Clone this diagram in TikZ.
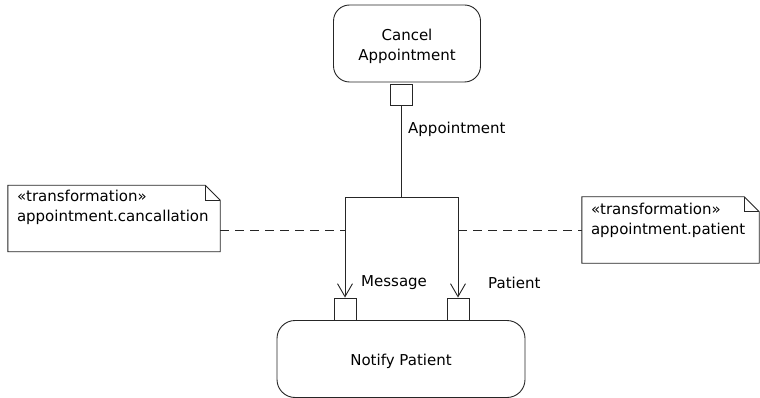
\documentclass[tikz,border=0pt]{standalone}
\usepackage{fontspec}
\setmainfont{DejaVu Sans}
\usetikzlibrary{arrows.meta,calc}
\begin{document}
\begin{tikzpicture}[x=1pt,y=-1pt,
  every node/.style={font=\fontsize{15}{20}\selectfont,text=black},
  ln/.style={line width=0.9pt,black!85},
  action/.style={ln,draw,rounded corners=16pt,inner sep=0pt,align=center,text=black},
  acttext/.style={text=black,align=center,inner sep=0pt},
  pin/.style={ln,draw,fill=white,minimum width=22pt,minimum height=22pt,inner sep=0pt},
  notebox/.style={inner sep=0pt},
  notetext/.style={inner sep=0pt,align=left,anchor=north west},
  lbl/.style={inner sep=0pt},
  flow/.style={ln,-{Straight Barb[length=13pt,width=15pt,line width=0.9pt]}},
  dashline/.style={ln,dash pattern=on 9pt off 6pt}]
\useasboundingbox (0,0) rectangle (760,398);
\fill[white] (0,0) rectangle (760,398);
% actions
\node[action,minimum width=147pt,minimum height=77pt,
  label={[acttext,yshift=-3pt]center:Cancel\\Appointment}] (cancel) at (407,43.5) {};
\node[action,minimum width=248pt,minimum height=77pt,rounded corners=18pt,
  label={[acttext,yshift=-2pt]center:Notify Patient}] (notify) at (401,359) {};
% pins
\node[pin,minimum height=21pt] (apin) at (401,94.5) {};
\node[pin] (mpin) at (345,309) {};
\node[pin] (ppin) at (458,309) {};
% pin labels
\node[lbl,anchor=west] (albl) at (408,129) {Appointment};
\node[lbl,anchor=west] (mlbl) at (361,283) {Message};
\node[lbl,anchor=west] (plbl) at (488,283) {Patient};
% flows
\coordinate (j) at (401,197);
\draw[ln] (apin.south) -- (j);
\draw[flow] (j) -| (mpin.north);
\draw[flow] (j) -| (ppin.north);
% notes
\node[notebox,minimum width=212pt,minimum height=66pt] (lnote) at (114,218.5) {};
\draw[ln,fill=white] (lnote.south west) |- ([xshift=-15pt]lnote.north east) -- ([yshift=-15pt]lnote.north east) |- (lnote.south west) -- cycle;
\draw[ln] ([xshift=-15pt]lnote.north east) |- ([yshift=-15pt]lnote.north east);
\node[notetext] (ltext) at ([xshift=9pt,yshift=-5pt]lnote.north west) {«transformation»\\appointment.cancallation};
\node[notebox,minimum width=177pt,minimum height=66pt] (rnote) at (670.5,230) {};
\draw[ln,fill=white] (rnote.south west) |- ([xshift=-15pt]rnote.north east) -- ([yshift=-15pt]rnote.north east) |- (rnote.south west) -- cycle;
\draw[ln] ([xshift=-15pt]rnote.north east) |- ([yshift=-15pt]rnote.north east);
\node[notetext] (rtext) at ([xshift=9pt,yshift=-6pt]rnote.north west) {«transformation»\\appointment.patient};
% anchors
\draw[dashline] (lnote.east |- 0,230) -- (mpin.center |- 0,230);
\draw[dashline] (ppin.center |- 0,230) -- (rnote.west);
\end{tikzpicture}
\end{document}
